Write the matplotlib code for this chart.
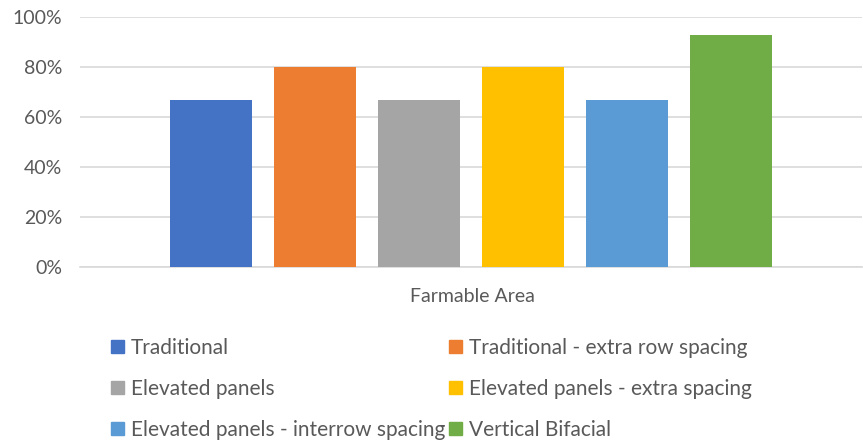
import matplotlib.pyplot as plt
from matplotlib.patches import Patch
from matplotlib.ticker import PercentFormatter
import numpy as np

category = "Farmable Area"
series = [
    "Traditional",
    "Traditional - extra row spacing",
    "Elevated panels",
    "Elevated panels - extra spacing",
    "Elevated panels - interrow spacing",
    "Vertical Bifacial",
]
values = [0.67, 0.80, 0.67, 0.80, 0.67, 0.93]
colors = ["#4472C4", "#ED7D31", "#A5A5A5", "#FFC000", "#5B9BD5", "#70AD47"]
yticks = [0, 0.2, 0.4, 0.6, 0.8, 1.0]

plt.rcParams["font.family"] = ["Lato", "DejaVu Sans"]
text_color = "#595959"

W, H = 863, 441
fig = plt.figure(figsize=(W / 100, H / 100), dpi=100)
ax = fig.add_axes([80 / W, (H - 267) / H, (862 - 80) / W, 250 / H])

n = len(series)
step = 0.133
width = 0.105
xs = (np.arange(n) - (n - 1) / 2) * step
for x, v, c, s in zip(xs, values, colors, series):
    ax.bar(x, v, width=width, color=c, label=s, zorder=3)

ax.set_xlim(-0.5, 0.5)
ax.set_ylim(0, 1)
ax.set_yticks(yticks)
ax.yaxis.set_major_formatter(PercentFormatter(1.0, decimals=0))
ax.set_xticks([])
ax.grid(axis="y", color="#D9D9D9", linewidth=1.2, zorder=0)
for side in ["top", "right", "left"]:
    ax.spines[side].set_visible(False)
ax.spines["bottom"].set_color("#D9D9D9")
ax.spines["bottom"].set_linewidth(1.2)
ax.tick_params(axis="y", length=0, pad=13, labelsize=14, labelcolor=text_color)

fig.text(472 / W, 1 - 297 / H, category, ha="center", va="center",
         fontsize=14, color=text_color)

# legend fills column-first, so reorder to read row by row
order = [0, 2, 4, 1, 3, 5]
handles = [Patch(color=colors[i]) for i in order]
labels = [series[i] for i in order]
fig.legend(handles, labels, ncol=2, loc="upper left",
           bbox_to_anchor=(111 / W, 1 - 338 / H), frameon=False,
           borderpad=0, borderaxespad=0,
           fontsize=15, labelcolor=text_color, handlelength=0.6,
           handleheight=0.6, handletextpad=0.35, columnspacing=0.2,
           labelspacing=1.0)

fig.savefig("out.png", dpi=100)
